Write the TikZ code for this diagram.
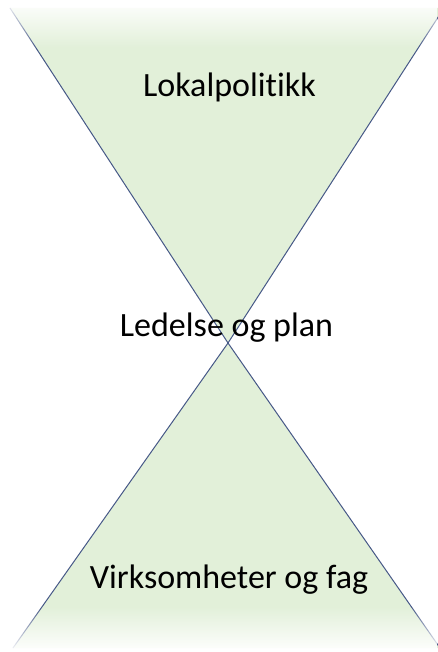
\documentclass[tikz,border=0pt]{standalone}
\usepackage{fontspec}
\setmainfont[Ligatures={NoCommon}]{Carlito}
\usetikzlibrary{fadings}
\definecolor{tfill}{RGB}{226,240,217}
\definecolor{tline}{RGB}{70,88,135}
\tikzfading[name=fadetop, top color=transparent!0, bottom color=transparent!100]
\tikzfading[name=fadebot, top color=transparent!100, bottom color=transparent!0]
\tikzset{
  tri/.style={fill=tfill, draw=none},
  edge/.style={draw=tline, line width=1pt},
  lbl/.style={font=\fontsize{34}{40}\selectfont, anchor=base, inner sep=0pt, text=black}
}
\begin{document}
\begin{tikzpicture}[x=1pt,y=-1pt]
\useasboundingbox (0,0) rectangle (437,652);
\fill[white] (0,0) rectangle (437,652);
\coordinate (tl) at (10,8);
\coordinate (tr) at (444,8);
\coordinate (x) at (228,343);
\coordinate (bl) at (13,648);
\coordinate (br) at (440,648);
\fill[tri] (tl) -- (tr) -- (x) -- cycle;
\fill[tri] (bl) -- (br) -- (x) -- cycle;
\draw[edge] (tl) -- (x) -- (br);
\draw[edge] (tr) -- (x) -- (bl);
\fill[white, path fading=fadetop] (0,0) rectangle (437,48);
\fill[white, path fading=fadebot] (0,606) rectangle (437,652);
\node[lbl] (top) at (229.5,97) {Lokalpolitikk};
\node[lbl] (mid) at (226.5,336) {Ledelse og plan};
\node[lbl] (bot) at (229,588) {Virksomheter og fag};
\end{tikzpicture}
\end{document}
